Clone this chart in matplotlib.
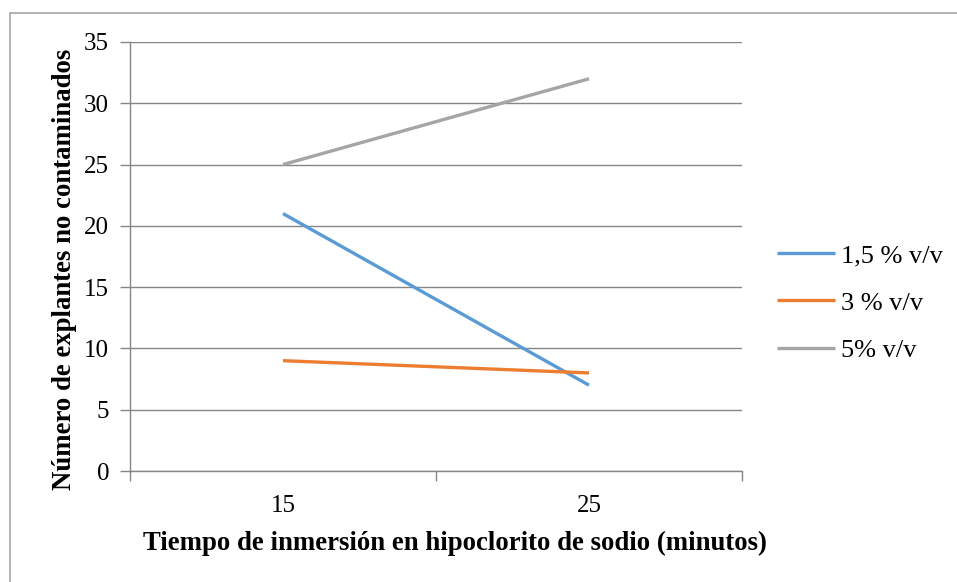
import matplotlib.pyplot as plt
from matplotlib.patches import Rectangle

# Datos: explantes no contaminados por concentración y tiempo
tiempos = ["15", "25"]
serie_15 = [21, 7]
serie_3 = [9, 8]
serie_5 = [25, 32]
etiquetas = ["1,5 % v/v", "3 % v/v", "5% v/v"]
colores = ["#5B9BD5", "#ED7D31", "#A5A5A5"]

plt.rcParams['font.family'] = ['Liberation Serif', 'DejaVu Serif']

fig = plt.figure(figsize=(9.57, 5.82), dpi=100)
ax = fig.add_axes([130/957, 111/582, 612/957, 429/582])

# marco exterior del gráfico
fig.patches.append(Rectangle((10/957, -0.1), 1.1, (582-13)/582 + 0.1,
                             transform=fig.transFigure, fill=False,
                             edgecolor="#A6A6A6", linewidth=1.2))

x = list(range(len(tiempos)))
for datos, etq, col in zip([serie_15, serie_3, serie_5], etiquetas, colores):
    ax.plot(x, datos, color=col, linewidth=2.4, label=etq, solid_capstyle="butt")

ax.set_xlim(-0.5, len(tiempos) - 0.5)
ax.set_ylim(0, 35)
ax.set_yticks(range(0, 36, 5))
ax.set_xticks(x)
ax.set_xticklabels(tiempos)
ax.set_xticks([-0.5, 0.5, 1.5], minor=True)
ax.tick_params(axis="x", which="major", length=0, pad=17, labelsize=18)
ax.tick_params(axis="x", which="minor", length=7, color="#868686", width=1)
ax.tick_params(axis="y", length=7, color="#868686", width=1, labelsize=18, pad=8)

ax.grid(axis="y", color="#868686", linewidth=1)
ax.set_axisbelow(True)
for lado in ["top", "right"]:
    ax.spines[lado].set_visible(False)
for lado in ["left", "bottom"]:
    ax.spines[lado].set_color("#868686")
    ax.spines[lado].set_linewidth(1)

ax.set_xlabel("Tiempo de inmersión en hipoclorito de sodio (minutos)",
              fontsize=19.3, fontweight="bold")
ax.set_ylabel("Número de explantes no contaminados",
              fontsize=19.3, fontweight="bold")
ax.xaxis.set_label_coords(0.531, -0.14)
ax.yaxis.set_label_coords(-0.087, 0.471)

ax.legend(loc="center left", bbox_to_anchor=(1.018, 0.392), frameon=False,
          fontsize=19, handlelength=2.2, handletextpad=0.25, labelspacing=0.9)

fig.savefig("out.png", dpi=100)
